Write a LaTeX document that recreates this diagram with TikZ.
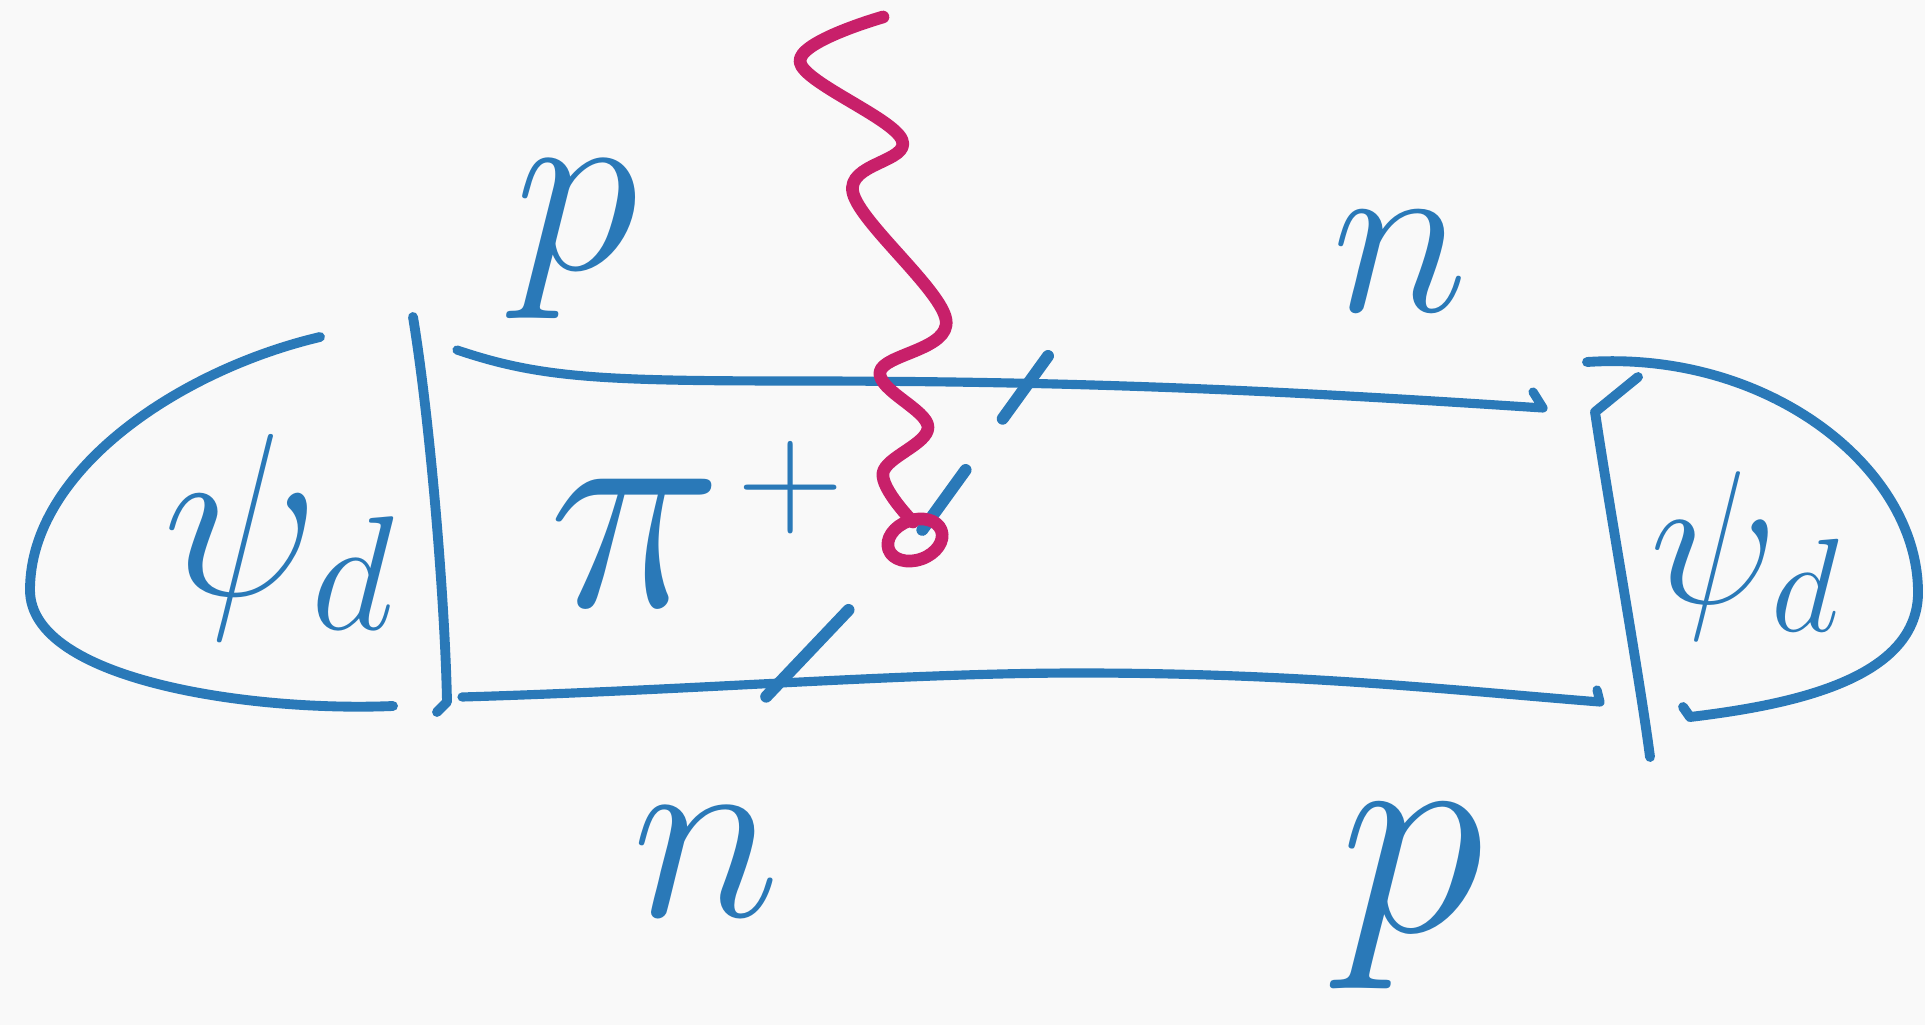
\documentclass[tikz,border=0pt]{standalone}
\usepackage{fix-cm}
\definecolor{inkblue}{HTML}{2A79B8}
\definecolor{inkmagenta}{HTML}{C8206A}
\definecolor{paper}{HTML}{F9F9F9}
\usetikzlibrary{calc}

\begin{document}
\begin{tikzpicture}[x=0.01cm, y=-0.01cm,
      nucleon/.style={inkblue, line width=2.6pt, line cap=round, line join=round},
      blob/.style={inkblue, line width=2.8pt, line cap=round, line join=round},
      pion/.style={inkblue, line width=3.4pt, line cap=round,
         dash pattern=on 22pt off 18pt on 21pt off 31pt on 34pt off 40pt},
      photon/.style={inkmagenta, line width=3.6pt, line cap=round, line join=round},
      lbl/.style={text=inkblue, inner sep=0pt}]

      % Paper
      \fill[paper] (0,0) rectangle (1925,1025);
      \useasboundingbox (0,0) rectangle (1925,1025);

      % End points of the lines
      \coordinate (barLtop) at (413,317);
      \coordinate (barLbot) at (447,702);
      \coordinate (barRtop) at (1638,377);
      \coordinate (barRbot) at (1650,757);
      \coordinate (topL) at (457,350);
      \coordinate (topR) at (1543,408);
      \coordinate (botL) at (462,697);
      \coordinate (botR) at (1600,702);
      \coordinate (piTop) at (1048,356);
      \coordinate (vtx) at (915,540);
      \coordinate (piBot) at (763,700);
      \coordinate (gTop) at (883,17);

      % Deuteron, left
      \draw[blob] (320,337) .. controls (180,370) and (30,470) .. (30,590)
                  .. controls (30,680) and (250,712) .. (393,706);
      \draw[blob] (barLtop) .. controls (430,420) and (445,600) .. (barLbot) -- (437,712);

      % Deuteron, right
      \draw[blob] (1587,362) .. controls (1770,350) and (1920,470) .. (1918,595)
                  .. controls (1915,680) and (1790,705) .. (1690,717) -- (1683,707);
      \draw[blob] (barRtop) -- (1595,412) .. controls (1608,500) and (1640,680) .. (barRbot);

      % Nucleon lines
      \draw[nucleon] (topL) .. controls (540,378) and (600,381) .. (800,381)
                     .. controls (1100,381) and (1300,392) .. (topR) -- (1533,392);
      \draw[nucleon] (botL) .. controls (700,690) and (900,673) .. (1080,673)
                     .. controls (1300,673) and (1450,690) .. (botR) -- (1597,690);

      % Pion exchange
      \draw[pion] (piTop) -- (vtx) -- (piBot);

      % Photon
      \draw[photon] plot[smooth, tension=0.6] coordinates {(gTop) (800,62) (902,140) (853,193) (946,320) (880,372) (928,427) (883,473) (913,522)};
      \draw[photon, rotate around={20:(vtx)}] (vtx) ellipse [x radius=28, y radius=20];

      % Labels
      \node[lbl, font=\fontsize{72}{72}\selectfont] (pTL) at (577,240) {$p$};
      \node[lbl, font=\fontsize{66}{66}\selectfont] (nTR) at (1400,262) {$n$};
      \node[lbl, font=\fontsize{72}{72}\selectfont] (nBL) at (706,862) {$n$};
      \node[lbl, font=\fontsize{84}{84}\selectfont] (pBR) at (1412,897) {$p$};
      \node[lbl, font=\fontsize{84}{84}\selectfont] (piLbl) at (696,524) {$\pi$\hspace{0.05em}\raisebox{0.28em}{$\scriptscriptstyle +$}};
      \node[lbl, font=\fontsize{66}{66}\selectfont] (psiL) at (280,537) {$\psi_d$};
      \node[lbl, font=\fontsize{54}{54}\selectfont] (psiR) at (1746,556) {$\psi_d$};
\end{tikzpicture}
\end{document}
